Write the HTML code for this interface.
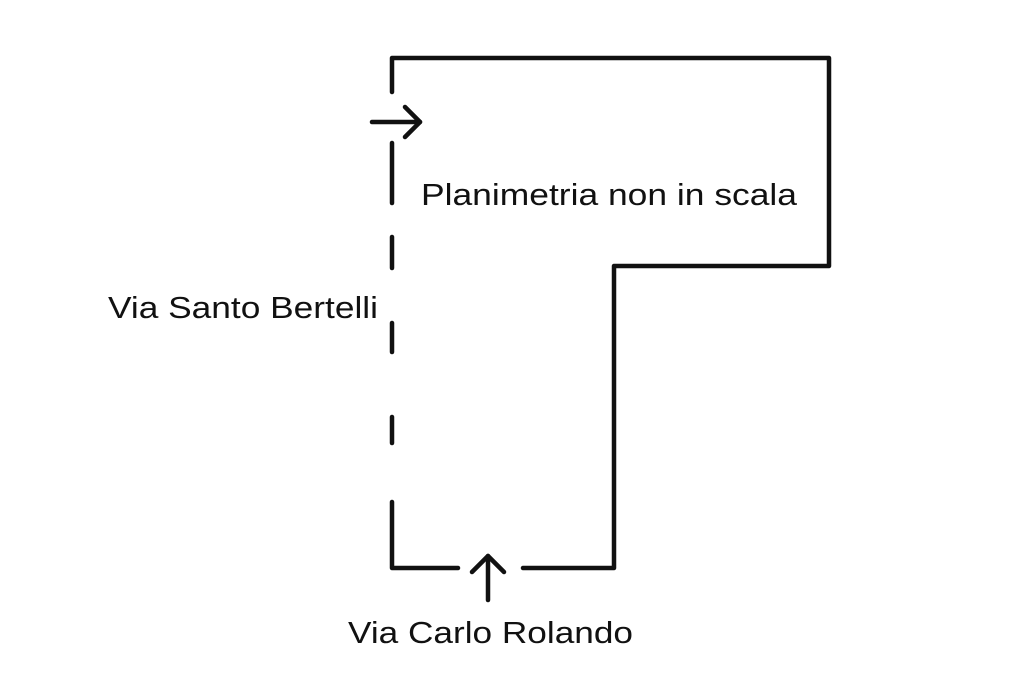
<!DOCTYPE html>
<html><head><meta charset="utf-8"><style>html,body{margin:0;padding:0;background:#fff;}svg{display:block}</style></head>
<body>
<svg width="1024" height="682" viewBox="0 0 1024 682" xmlns="http://www.w3.org/2000/svg">
<rect width="1024" height="682" fill="#fff"/>
<g stroke="#111" stroke-width="4.5" fill="none" stroke-linecap="round" stroke-linejoin="round">
<polyline points="392,92 392,58 829,58 829,266 614,266 614,568 523,568"/>
<polyline points="392,502 392,568 458,568"/>
<line x1="392" y1="143" x2="392" y2="203"/>
<line x1="392" y1="237" x2="392" y2="268"/>
<line x1="392" y1="323" x2="392" y2="352"/>
<line x1="392" y1="417" x2="392" y2="443"/>
<line x1="372" y1="122" x2="420" y2="122"/>
<polyline points="405,107 420,122 405,137"/>
<line x1="488" y1="556" x2="488" y2="600"/>
<polyline points="472,572 488,556 504,572"/>
</g>
<g font-family="Liberation Sans, Arial, sans-serif" font-size="31" fill="#111">
<text x="421" y="205" textLength="376" lengthAdjust="spacingAndGlyphs">Planimetria non in scala</text>
<text x="108" y="318" textLength="270" lengthAdjust="spacingAndGlyphs">Via Santo Bertelli</text>
<text x="348" y="643" textLength="285" lengthAdjust="spacingAndGlyphs">Via Carlo Rolando</text>
</g>
</svg>
</body></html>
